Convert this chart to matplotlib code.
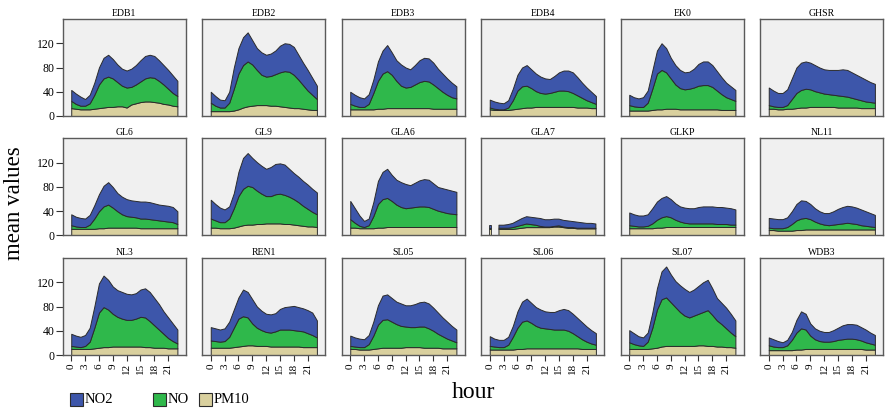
import numpy as np
import matplotlib
matplotlib.use("Agg")
import matplotlib.pyplot as plt
from matplotlib.patches import Rectangle

nan = float("nan")
hours = list(range(24))
hour_ticks = list(range(0, 24, 3))
y_ticks = [0, 40, 80, 120]
stations = ["EDB1", "EDB2", "EDB3", "EDB4", "EK0", "GHSR",
            "GL6", "GL9", "GLA6", "GLA7", "GLKP", "NL11",
            "NL3", "REN1", "SL05", "SL06", "SL07", "WDB3"]
legend_labels = ["NO2", "NO", "PM10"]

# ---- data (mean values per hour, 0..23) ----
edb1_pm10 = [13, 12, 11, 11, 11, 12, 13, 14, 15, 15, 16, 16, 14, 19, 21, 23, 24, 24, 23, 22, 20, 19, 17, 16]
edb1_no   = [12, 8, 6, 6, 10, 23, 39, 48, 50, 47, 40, 34, 33, 29, 31, 34, 38, 40, 40, 36, 32, 26, 21, 17]
edb1_no2  = [18, 17, 15, 11, 14, 20, 28, 34, 36, 32, 29, 28, 28, 30, 32, 35, 37, 37, 36, 34, 32, 31, 29, 25]

edb2_pm10 = [8, 8, 8, 8, 8, 9, 11, 14, 16, 17, 18, 18, 18, 17, 17, 16, 15, 14, 13, 13, 12, 11, 10, 10]
edb2_no   = [14, 9, 6, 6, 14, 36, 59, 70, 74, 68, 58, 50, 47, 49, 52, 56, 59, 59, 55, 47, 39, 31, 25, 18]
edb2_no2  = [18, 16, 13, 12, 18, 35, 42, 46, 48, 40, 36, 37, 36, 37, 39, 44, 46, 46, 46, 41, 37, 34, 28, 22]

edb3_pm10 = [11, 11, 11, 11, 11, 11, 12, 12, 13, 13, 13, 13, 13, 13, 13, 13, 13, 13, 12, 12, 12, 12, 12, 12]
edb3_no   = [9, 6, 4, 4, 9, 27, 46, 58, 61, 55, 45, 37, 34, 35, 39, 43, 45, 44, 40, 34, 28, 23, 19, 17]
edb3_no2  = [20, 18, 16, 14, 16, 22, 32, 38, 43, 37, 34, 35, 33, 29, 32, 36, 38, 38, 36, 32, 30, 27, 24, 20]

edb4_pm10 = [11, 10, 10, 10, 10, 11, 12, 13, 14, 14, 15, 15, 15, 15, 15, 15, 15, 15, 15, 14, 14, 14, 13, 13]
edb4_no   = [3, 2, 1, 1, 4, 15, 30, 36, 36, 32, 26, 23, 22, 23, 25, 27, 27, 26, 23, 20, 16, 12, 10, 7]
edb4_no2  = [13, 12, 11, 10, 12, 19, 26, 31, 34, 31, 29, 27, 25, 23, 26, 30, 33, 34, 34, 30, 25, 21, 17, 13]

ek0_pm10 = [9, 9, 9, 9, 9, 10, 11, 11, 12, 12, 12, 11, 11, 11, 11, 11, 11, 11, 11, 11, 10, 10, 10, 10]
ek0_no   = [9, 7, 6, 6, 13, 35, 59, 65, 60, 50, 40, 35, 33, 34, 36, 39, 40, 40, 37, 31, 26, 21, 18, 15]
ek0_no2  = [17, 15, 14, 16, 20, 30, 38, 44, 40, 34, 32, 30, 28, 28, 31, 36, 39, 39, 36, 32, 28, 24, 21, 18]

ghsr_pm10 = [12, 12, 11, 11, 12, 12, 13, 14, 14, 15, 15, 15, 15, 15, 15, 14, 14, 14, 14, 14, 13, 13, 13, 13]
ghsr_no   = [6, 4, 4, 4, 6, 16, 25, 29, 31, 29, 26, 24, 22, 21, 20, 20, 19, 18, 16, 14, 13, 11, 10, 9]
ghsr_no2  = [29, 26, 23, 23, 26, 34, 42, 45, 45, 44, 43, 41, 40, 40, 41, 42, 44, 44, 42, 40, 38, 36, 33, 31]

gl6_pm10 = [11, 11, 11, 11, 11, 11, 12, 12, 13, 13, 13, 13, 13, 13, 13, 12, 12, 12, 12, 12, 12, 12, 12, 12]
gl6_no   = [6, 4, 3, 3, 7, 17, 28, 36, 38, 33, 27, 22, 19, 18, 17, 16, 16, 15, 14, 13, 12, 11, 10, 7]
gl6_no2  = [18, 16, 15, 14, 16, 22, 28, 34, 37, 34, 30, 29, 28, 27, 27, 28, 28, 28, 27, 26, 26, 26, 25, 21]

gl9_pm10 = [13, 13, 12, 12, 12, 13, 15, 17, 18, 18, 19, 19, 20, 20, 20, 20, 19, 19, 18, 17, 16, 15, 15, 14]
gl9_no   = [15, 12, 10, 10, 16, 32, 50, 60, 64, 62, 55, 50, 45, 45, 48, 49, 48, 45, 42, 38, 33, 29, 24, 21]
gl9_no2  = [31, 27, 24, 21, 20, 25, 40, 51, 54, 48, 47, 46, 45, 48, 50, 50, 50, 46, 43, 42, 41, 40, 38, 36]

gla6_pm10 = [13, 13, 12, 12, 12, 12, 13, 13, 14, 14, 14, 14, 14, 14, 14, 14, 14, 14, 14, 14, 14, 14, 14, 14]
gla6_no   = [14, 8, 4, 2, 5, 20, 39, 47, 48, 43, 37, 33, 31, 32, 33, 34, 34, 33, 30, 27, 25, 23, 22, 21]
gla6_no2  = [30, 24, 17, 10, 11, 23, 38, 45, 48, 43, 41, 41, 40, 37, 40, 43, 45, 45, 42, 39, 39, 39, 38, 37]

gla7_pm10 = [10, nan, 10, 10, 10, 10, 11, 12, 13, 13, 13, 13, 13, 13, 14, 14, 13, 12, 12, 11, 11, 11, 11, 11]
gla7_no   = [3, nan, 2, 2, 2, 3, 4, 5, 6, 5, 4, 2, 1, 1, 1, 2, 1, 1, 1, 1, 1, 1, 1, 1]
gla7_no2  = [5, nan, 5, 5, 6, 7, 9, 11, 12, 12, 12, 13, 12, 12, 12, 11, 11, 11, 10, 10, 9, 8, 8, 7]

glkp_pm10 = [12, 12, 12, 12, 12, 12, 13, 13, 14, 14, 14, 14, 14, 14, 14, 14, 14, 14, 14, 14, 14, 14, 14, 14]
glkp_no   = [5, 4, 3, 3, 4, 8, 13, 17, 18, 16, 12, 9, 7, 6, 6, 6, 6, 6, 6, 5, 5, 5, 4, 4]
glkp_no2  = [21, 19, 18, 18, 19, 25, 30, 32, 33, 30, 27, 25, 25, 25, 25, 27, 28, 28, 28, 28, 28, 27, 27, 25]

nl11_pm10 = [9, 9, 8, 8, 8, 8, 9, 9, 10, 10, 10, 10, 10, 10, 10, 10, 10, 10, 10, 10, 10, 10, 10, 10]
nl11_no   = [4, 3, 4, 4, 6, 11, 16, 19, 19, 17, 13, 10, 8, 7, 8, 9, 10, 11, 10, 9, 7, 6, 5, 4]
nl11_no2  = [16, 16, 15, 15, 16, 21, 27, 30, 28, 25, 22, 20, 19, 20, 22, 25, 27, 28, 28, 27, 26, 24, 22, 20]

nl3_pm10 = [10, 10, 10, 10, 10, 11, 12, 13, 13, 14, 14, 14, 14, 14, 14, 14, 13, 13, 12, 12, 12, 11, 11, 11]
nl3_no   = [5, 4, 3, 5, 12, 34, 58, 66, 62, 54, 49, 46, 44, 44, 46, 49, 49, 43, 37, 30, 23, 17, 12, 8]
nl3_no2  = [20, 18, 17, 18, 23, 35, 48, 52, 49, 45, 44, 44, 43, 42, 42, 45, 48, 48, 45, 42, 37, 34, 29, 23]

ren1_pm10 = [12, 12, 12, 12, 12, 13, 14, 15, 16, 16, 15, 15, 15, 14, 14, 14, 14, 14, 14, 14, 13, 13, 13, 13]
ren1_no   = [12, 11, 10, 11, 18, 32, 46, 49, 46, 36, 30, 26, 23, 23, 25, 28, 28, 28, 27, 26, 26, 23, 20, 16]
ren1_no2  = [22, 21, 20, 21, 25, 30, 35, 44, 42, 40, 35, 32, 30, 30, 30, 34, 37, 38, 40, 39, 38, 38, 37, 28]

sl05_pm10 = [10, 10, 9, 9, 9, 10, 11, 12, 12, 12, 12, 12, 13, 13, 13, 13, 12, 12, 12, 12, 11, 11, 11, 11]
sl05_no   = [5, 4, 4, 4, 9, 22, 39, 46, 47, 43, 39, 36, 34, 33, 33, 34, 35, 32, 28, 23, 20, 16, 13, 10]
sl05_no2  = [17, 15, 14, 13, 15, 23, 32, 40, 41, 39, 37, 37, 35, 36, 38, 40, 41, 41, 38, 35, 31, 28, 24, 21]

sl06_pm10 = [9, 9, 9, 9, 9, 9, 10, 10, 11, 11, 11, 11, 11, 11, 11, 11, 11, 11, 11, 11, 10, 10, 10, 10]
sl06_no   = [6, 5, 4, 4, 8, 21, 35, 45, 46, 42, 37, 34, 33, 32, 31, 31, 31, 29, 25, 20, 16, 12, 9, 7]
sl06_no2  = [16, 13, 12, 12, 13, 18, 27, 33, 36, 33, 31, 30, 28, 28, 29, 32, 34, 34, 32, 30, 28, 25, 22, 19]

sl07_pm10 = [10, 10, 10, 10, 10, 11, 12, 14, 15, 15, 15, 15, 15, 15, 15, 16, 16, 15, 15, 14, 14, 13, 13, 12]
sl07_no   = [11, 8, 6, 5, 12, 34, 63, 78, 80, 72, 64, 56, 50, 47, 50, 52, 55, 59, 51, 43, 37, 31, 24, 19]
sl07_no2  = [20, 18, 15, 14, 15, 25, 35, 46, 51, 46, 43, 44, 44, 42, 43, 46, 49, 50, 44, 37, 35, 34, 31, 26]

wdb3_pm10 = [8, 8, 8, 8, 8, 8, 9, 9, 10, 10, 10, 10, 10, 10, 10, 10, 10, 10, 10, 10, 10, 9, 9, 9]
wdb3_no   = [8, 6, 5, 5, 8, 17, 28, 35, 32, 22, 16, 13, 12, 12, 13, 15, 16, 17, 17, 16, 14, 12, 10, 8]
wdb3_no2  = [13, 12, 10, 8, 9, 13, 21, 28, 26, 20, 18, 17, 16, 16, 18, 20, 23, 24, 24, 24, 22, 21, 18, 16]

series = {
    "EDB1": (edb1_pm10, edb1_no, edb1_no2), "EDB2": (edb2_pm10, edb2_no, edb2_no2),
    "EDB3": (edb3_pm10, edb3_no, edb3_no2), "EDB4": (edb4_pm10, edb4_no, edb4_no2),
    "EK0": (ek0_pm10, ek0_no, ek0_no2), "GHSR": (ghsr_pm10, ghsr_no, ghsr_no2),
    "GL6": (gl6_pm10, gl6_no, gl6_no2), "GL9": (gl9_pm10, gl9_no, gl9_no2),
    "GLA6": (gla6_pm10, gla6_no, gla6_no2), "GLA7": (gla7_pm10, gla7_no, gla7_no2),
    "GLKP": (glkp_pm10, glkp_no, glkp_no2), "NL11": (nl11_pm10, nl11_no, nl11_no2),
    "NL3": (nl3_pm10, nl3_no, nl3_no2), "REN1": (ren1_pm10, ren1_no, ren1_no2),
    "SL05": (sl05_pm10, sl05_no, sl05_no2), "SL06": (sl06_pm10, sl06_no, sl06_no2),
    "SL07": (sl07_pm10, sl07_no, sl07_no2), "WDB3": (wdb3_pm10, wdb3_no, wdb3_no2),
}

# ---- style ----
plt.rcParams["font.family"] = ["Liberation Serif", "DejaVu Serif"]
BLUE = "#3d56aa"
GREEN = "#2fb84b"
TAN = "#d9d09e"
EDGE = "#2b2b2b"
PANEL = "#f0f0f0"
SPINE = "#5a5a5a"

W, H = 885, 408
fig = plt.figure(figsize=(W / 100, H / 100), dpi=100)
fig.patch.set_facecolor("white")

col_left = [62.7 + i * 139.5 for i in range(6)]
row_top = [19, 138.5, 258]
aw, ah = 123, 97

x = np.array(hours, dtype=float)
for idx, name in enumerate(stations):
    r, c = divmod(idx, 6)
    ax = fig.add_axes([col_left[c] / W, 1 - (row_top[r] + ah) / H, aw / W, ah / H])
    ax.set_facecolor(PANEL)
    pm, no, no2 = (np.array(s, dtype=float) for s in series[name])
    l1 = pm
    l2 = pm + no
    l3 = l2 + no2
    zero = np.where(np.isnan(l1), np.nan, 0.0)
    layers = [(zero, l1, TAN), (l1, l2, GREEN), (l2, l3, BLUE)]
    for lo, hi, col in layers:
        ax.fill_between(x, lo, hi, facecolor=col, edgecolor=EDGE, linewidth=0.7, zorder=2)
    # isolated valid points (neighbours missing) drawn as thin strips
    valid = ~np.isnan(l3)
    for i in range(len(x)):
        left_ok = i > 0 and valid[i - 1]
        right_ok = i < len(x) - 1 and valid[i + 1]
        if valid[i] and not left_ok and not right_ok:
            for lo, hi, col in layers:
                ax.bar(x[i] + 0.1, hi[i] - lo[i], bottom=lo[i], width=0.45,
                       color=col, edgecolor=EDGE, linewidth=0.6, zorder=2)
    ax.set_xlim(-1.85, 24.8)
    ax.set_ylim(0, 160)
    for sp in ax.spines.values():
        sp.set_color(SPINE)
        sp.set_linewidth(1.0)
        sp.set_zorder(3)
    if c == 0:
        ax.set_yticks(y_ticks)
        ax.tick_params(axis="y", direction="out", length=5, width=0.8,
                       labelsize=8.5, pad=1, color="#333333")
    else:
        ax.set_yticks([])
    if r == 2:
        ax.set_xticks(hour_ticks)
        ax.set_xticklabels([str(h) for h in hour_ticks], rotation=90)
        ax.tick_params(axis="x", direction="out", length=4.5, width=0.8,
                       labelsize=8, pad=1.5, color="#333333")
    else:
        ax.set_xticks([])
    ax.set_title(name, fontsize=7, pad=2.5)

fig.text(15 / W, 1 - 203 / H, "mean values", rotation=90, ha="center", va="center",
         fontsize=16.5)
fig.text(473 / W, 1 - 392 / H, "hour", ha="center", va="center", fontsize=17)

# legend
leg_x = [70, 153, 199]
leg_cols = [BLUE, GREEN, TAN]
for lx, lc, lt in zip(leg_x, leg_cols, legend_labels):
    fig.add_artist(Rectangle((lx / W, 1 - 406 / H), 13 / W, 13 / H,
                             transform=fig.transFigure, facecolor=lc,
                             edgecolor=EDGE, linewidth=0.8))
    fig.text((lx + 15) / W, 1 - 399.5 / H, lt, ha="left", va="center", fontsize=10.5)

fig.savefig("out.png", dpi=100)
